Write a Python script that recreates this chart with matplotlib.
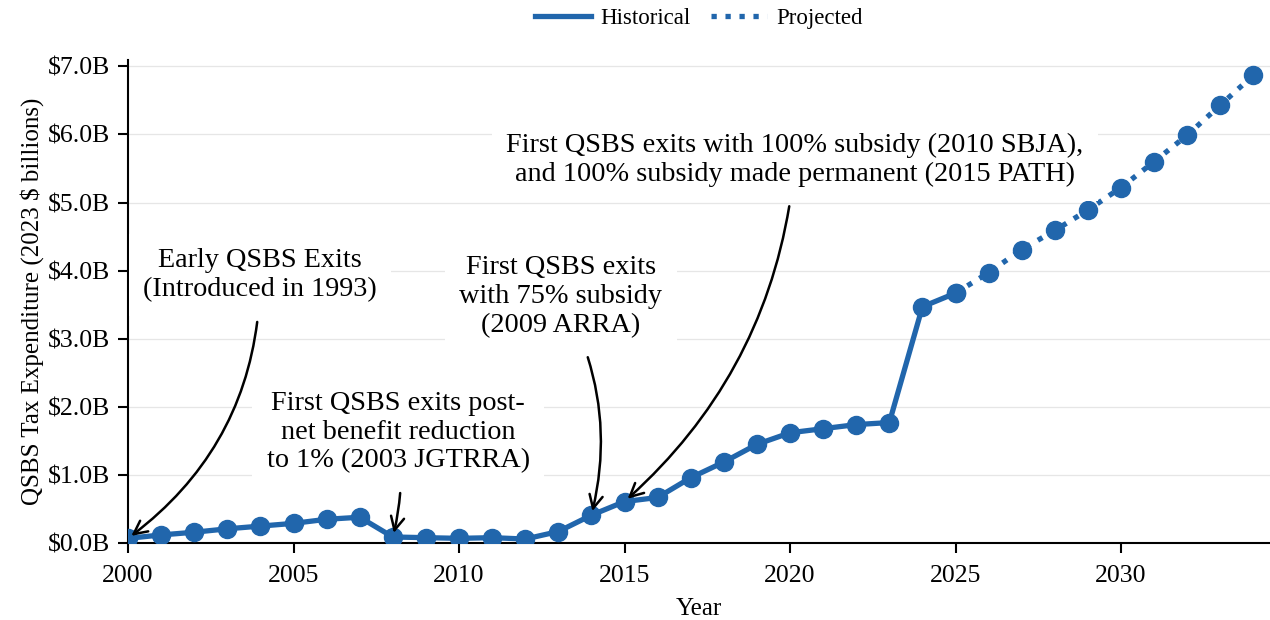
import numpy as np
import matplotlib
matplotlib.use("Agg")
import matplotlib.pyplot as plt
from matplotlib.lines import Line2D
from matplotlib.ticker import FuncFormatter

plt.rcParams['font.family'] = ['Liberation Serif', 'DejaVu Serif']

# values (2023 $ billions)
hist_years = list(range(2000, 2026))
hist_values = [0.07, 0.12, 0.16, 0.21, 0.25, 0.29, 0.35, 0.38, 0.09, 0.08,
               0.07, 0.08, 0.06, 0.17, 0.41, 0.61, 0.67, 0.96, 1.19, 1.45,
               1.62, 1.68, 1.74, 1.77, 3.47, 3.67]
proj_years = list(range(2025, 2035))
proj_values = [3.67, 3.97, 4.31, 4.59, 4.89, 5.22, 5.60, 5.99, 6.43, 6.87]

notes = [
    "Early QSBS Exits\n(Introduced in 1993)",
    "First QSBS exits post-\nnet benefit reduction\nto 1% (2003 JGTRRA)",
    "First QSBS exits\nwith 75% subsidy\n(2009 ARRA)",
    "First QSBS exits with 100% subsidy (2010 SBJA),\nand 100% subsidy made permanent (2015 PATH)",
]
note_targets = [2000, 2008, 2014, 2015]
note_text_pos = [(2003.99, 3.93), (2008.16, 1.63), (2013.08, 3.62), (2020.15, 5.63)]
note_rads = [-0.25, -0.1, -0.2, -0.2]

blue = '#2166AC'

fig = plt.figure(figsize=(12.7, 6.2), dpi=100)
ax = fig.add_axes([0.1008, 0.124, 0.8992, 0.779])

ax.plot(hist_years, hist_values, color=blue, lw=3.8, marker='o', ms=13,
        zorder=3)
ax.plot(proj_years, proj_values, color=blue, lw=3.8, ls=':', marker='o', ms=13,
        zorder=3)

vals = dict(zip(hist_years + proj_years, hist_values + proj_values))
for txt, yr, pos, rad in zip(notes, note_targets, note_text_pos, note_rads):
    ax.annotate(txt, xy=(yr, vals[yr]), xytext=pos, ha='center', va='center',
                fontsize=20.3, linespacing=1.2,
                bbox=dict(boxstyle='square,pad=0.5', fc='white', ec='none'),
                arrowprops=dict(arrowstyle='->', color='black', lw=1.8,
                                mutation_scale=24, shrinkA=4, shrinkB=3,
                                connectionstyle=f'arc3,rad={rad}'),
                zorder=4)

ax.set_xlim(2000, 2034.5)
ax.set_ylim(0, 7.09)
ax.set_xticks(range(2000, 2031, 5))
ax.set_yticks(range(0, 8))
ax.yaxis.set_major_formatter(FuncFormatter(lambda v, p: f"${v:.1f}B"))
ax.tick_params(labelsize=18.5, length=7, width=1.5)
ax.tick_params(axis='x', pad=9)
ax.tick_params(axis='y', pad=6)
ax.grid(axis='y', color='#e6e6e6', lw=0.9)
ax.set_axisbelow(True)
for s in ['top', 'right']:
    ax.spines[s].set_visible(False)
for s in ['left', 'bottom']:
    ax.spines[s].set_linewidth(1.5)

ax.set_xlabel('Year', fontsize=18, labelpad=8)
ax.set_ylabel('QSBS Tax Expenditure (2023 $ billions)', fontsize=18, labelpad=3)

handles = [Line2D([], [], color=blue, lw=3.8),
           Line2D([], [], color=blue, lw=3.8, ls=':')]
ax.legend(handles, ['Historical', 'Projected'], loc='center',
          bbox_to_anchor=(0.5, 1.086), ncol=2, frameon=False, fontsize=16.5,
          handlelength=2.45, handletextpad=0.4, columnspacing=0.9)

fig.savefig('out.png', dpi=100)
